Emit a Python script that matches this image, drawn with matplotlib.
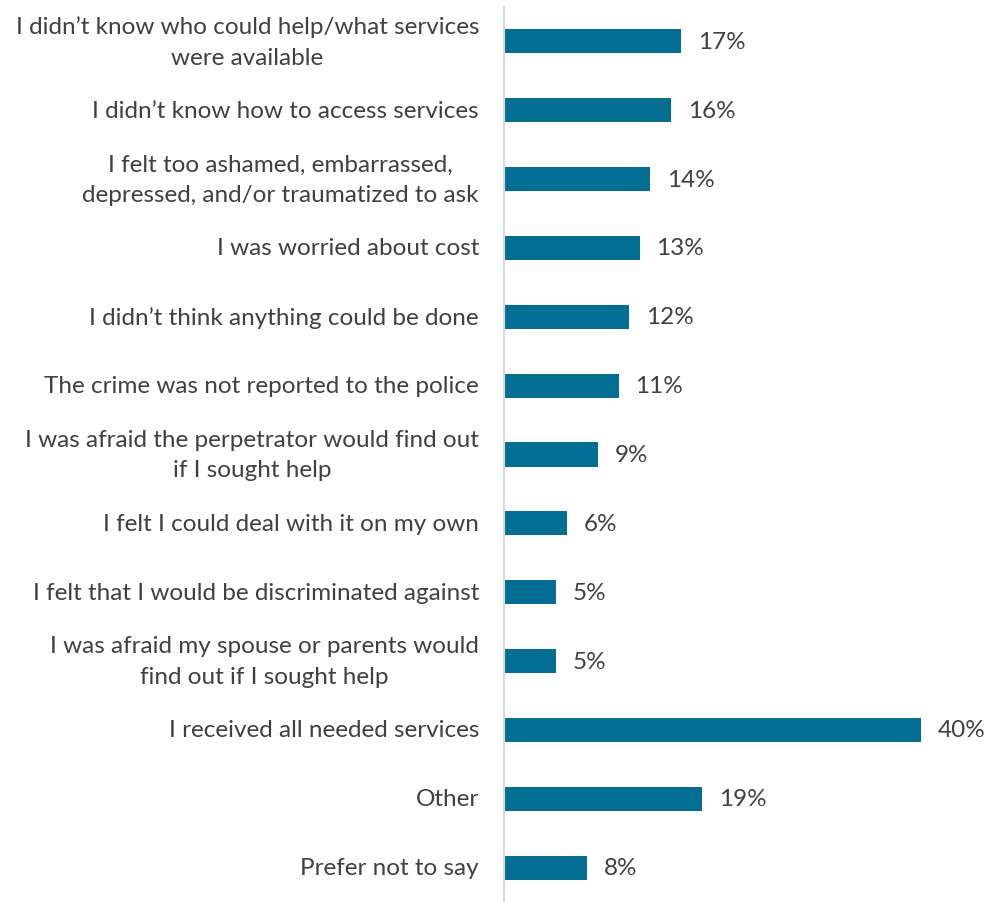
import matplotlib
matplotlib.use("Agg")
import matplotlib.pyplot as plt

reasons = [
    "I didn\u2019t know who could help/what services\nwere available",
    "I didn\u2019t know how to access services",
    "I felt too ashamed, embarrassed,\ndepressed, and/or traumatized to ask",
    "I was worried about cost",
    "I didn\u2019t think anything could be done",
    "The crime was not reported to the police",
    "I was afraid the perpetrator would find out\nif I sought help",
    "I felt I could deal with it on my own",
    "I felt that I would be discriminated against",
    "I was afraid my spouse or parents would\nfind out if I sought help",
    "I received all needed services",
    "Other",
    "Prefer not to say",
]
percent = [17, 16, 14, 13, 12, 11, 9, 6, 5, 5, 40, 19, 8]

BAR_COLOR = "#036E93"
TEXT_COLOR = "#404040"
FONT = ["Lato", "DejaVu Sans"]
FS = 17.5

fig = plt.figure(figsize=(9.84, 9.03), dpi=100)
ax = fig.add_axes([504 / 984, 0.0, 480 / 984, 1 - 8 / 903])

y = list(range(len(reasons)))
ax.barh(y, percent, height=0.35, color=BAR_COLOR)
ax.set_ylim(len(reasons) - 0.5, -0.5)
ax.set_xlim(0, 46)

for yi, v in zip(y, percent):
    ax.annotate(f"{v}%", (v, yi), xytext=(12, 0), textcoords="offset points",
                ha="left", va="center", fontsize=FS, color=TEXT_COLOR,
                family=FONT)

ax.set_yticks(y)
ax.set_yticklabels(reasons, fontsize=FS, color=TEXT_COLOR, family=FONT,
                   linespacing=1.55, multialignment="center")
for lbl in ax.get_yticklabels():
    lbl.set_verticalalignment("center")
ax.tick_params(axis="y", length=0, pad=18)
ax.set_xticks([])
for side in ("top", "right", "bottom"):
    ax.spines[side].set_visible(False)
ax.spines["left"].set_color("#D9D9D9")
ax.spines["left"].set_linewidth(1.5)

fig.savefig("out.png", dpi=100)
